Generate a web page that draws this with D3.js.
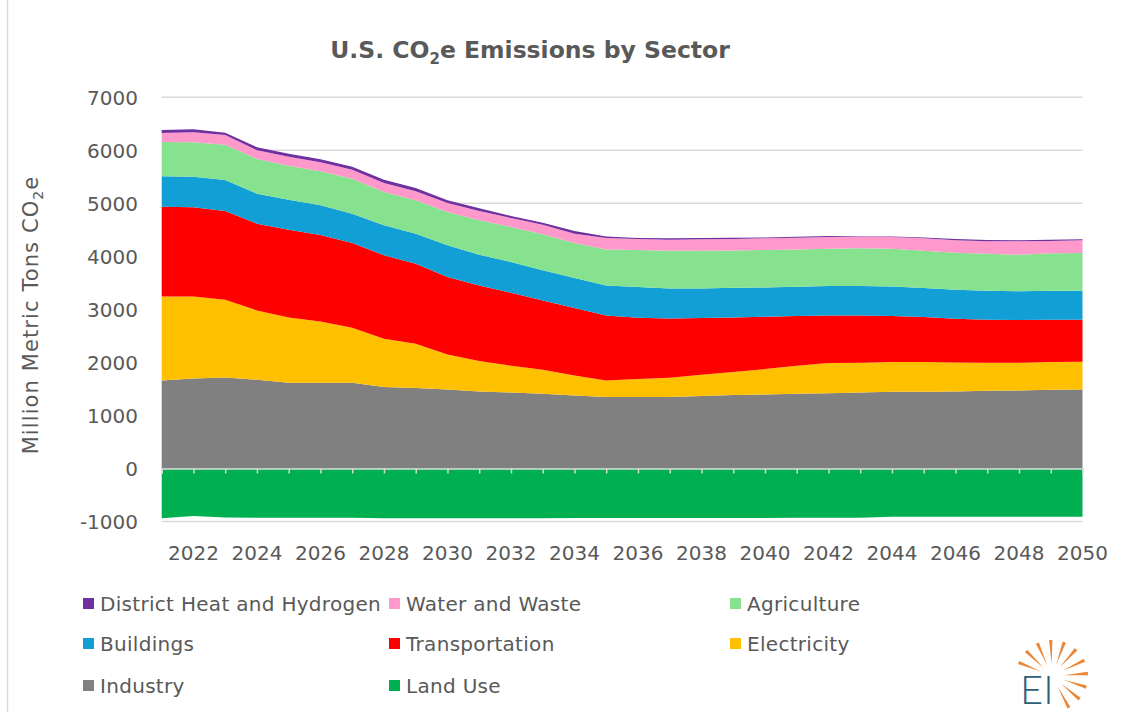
<!DOCTYPE html>
<html>
<head>
<meta charset="utf-8">
<script src="https://cdn.jsdelivr.net/npm/d3@7"></script>
<style>
   body { margin: 0; background: #fff; }
   svg { display: block; font-family: 'DejaVu Sans', sans-serif; }
   .tick-label { fill: #595959; font-size: 20px; }
   .legend-label { fill: #595959; font-size: 20px; letter-spacing: 0.3px; }
</style>
</head>
<body>
<div id="chart"></div>
<script>
// years on the category axis
const years = d3.range(2021, 2051);

// million metric tons CO2e per sector
const industry = [1660, 1698, 1717, 1673, 1616, 1616, 1616, 1535, 1516, 1491, 1453, 1434, 1409, 1377, 1346,
   1346, 1346, 1365, 1384, 1396, 1409, 1421, 1434, 1447, 1447, 1453, 1465, 1472, 1484, 1491];
const electricity = [1585, 1547, 1465, 1308, 1233, 1158, 1038, 912, 836, 660, 572, 503, 453, 378, 314,
   340, 365, 402, 434, 478, 528, 566, 560, 559, 559, 547, 529, 522, 522, 522];
const transportation = [1692, 1680, 1673, 1635, 1654, 1629, 1598, 1572, 1510, 1459, 1428, 1377, 1308, 1270, 1227,
   1157, 1119, 1069, 1031, 988, 937, 900, 893, 868, 849, 824, 811, 805, 799, 792];
const buildings = [572, 578, 585, 566, 566, 559, 553, 566, 566, 598, 578, 579, 566, 566, 566,
   578, 566, 560, 560, 553, 554, 553, 553, 560, 548, 547, 547, 541, 547, 547];
const agriculture = [648, 648, 667, 654, 642, 642, 660, 629, 629, 628, 648, 660, 679, 661, 679,
   699, 711, 711, 704, 705, 704, 705, 711, 711, 704, 698, 698, 691, 705, 711];
const waterWaste = [170, 189, 182, 164, 170, 170, 170, 170, 169, 170, 176, 170, 182, 176, 213,
   207, 207, 214, 214, 220, 220, 220, 214, 220, 233, 233, 233, 252, 232, 239];
const districtHeat = [57, 56, 44, 57, 56, 56, 57, 63, 63, 51, 51, 38, 38, 50, 32,
   19, 26, 25, 25, 18, 19, 19, 12, 12, 18, 25, 25, 19, 25, 19];
const landUse = [-940, -895, -925, -930, -930, -930, -930, -940, -940, -940, -940, -940, -940, -935, -935,
   -935, -935, -935, -935, -935, -930, -930, -930, -910, -910, -910, -910, -910, -910, -910];

const yTicks = [-1000, 0, 1000, 2000, 3000, 4000, 5000, 6000, 7000];
const xLabelYears = d3.range(2022, 2051, 2);

const sectors = [
   { key: 'Industry', values: industry, color: '#808080' },
   { key: 'Electricity', values: electricity, color: '#ffc000' },
   { key: 'Transportation', values: transportation, color: '#ff0000' },
   { key: 'Buildings', values: buildings, color: '#119fd6' },
   { key: 'Agriculture', values: agriculture, color: '#87e28f' },
   { key: 'Water and Waste', values: waterWaste, color: '#ff99cc' },
   { key: 'District Heat and Hydrogen', values: districtHeat, color: '#7030a0' },
   { key: 'Land Use', values: landUse, color: '#00b050' }
];

// legend order as in the original (3 columns)
const legendOrder = ['District Heat and Hydrogen', 'Water and Waste', 'Agriculture',
   'Buildings', 'Transportation', 'Electricity', 'Industry', 'Land Use'];

const width = 1123;
const height = 712;

const rows = years.map((yr, i) => {
   const row = { year: yr };
   sectors.forEach(s => { row[s.key] = s.values[i]; });
   return row;
});

const svg = d3.select('#chart').append('svg')
   .attr('width', width)
   .attr('height', height);

// chart frame edge on the left
svg.append('line')
   .attr('x1', 7.5).attr('x2', 7.5)
   .attr('y1', 0).attr('y2', height)
   .attr('stroke', '#d9d9d9')
   .attr('stroke-width', 1.5);

const x = d3.scaleLinear()
   .domain([2021, 2050])
   .range([161.7, 1082.5]);

const y = d3.scaleLinear()
   .domain([-1000, 7000])
   .range([521.5, 97.3]);

// gridlines
svg.append('g')
   .selectAll('line')
   .data(yTicks.filter(t => t !== 0))
   .enter()
   .append('line')
      .attr('x1', x(2021)).attr('x2', x(2050))
      .attr('y1', d => y(d)).attr('y2', d => y(d))
      .attr('stroke', '#d9d9d9')
      .attr('stroke-width', 1.5);

const stack = d3.stack()
   .keys(sectors.map(s => s.key))
   .offset(d3.stackOffsetDiverging);

const series = stack(rows);
const colorOf = key => sectors.find(s => s.key === key).color;

const area = d3.area()
   .x(d => x(d.data.year))
   .y0(d => y(d[0]))
   .y1(d => y(d[1]));

svg.append('g')
   .selectAll('path')
   .data(series)
   .enter()
   .append('path')
      .attr('fill', d => colorOf(d.key))
      .attr('d', area);

// zero axis line with tick marks
const xAxis = d3.axisBottom(x)
   .tickValues(years)
   .tickSize(5)
   .tickFormat('');

const axisG = svg.append('g')
   .attr('transform', `translate(0,${y(0)})`)
   .call(xAxis);

axisG.select('.domain')
   .attr('stroke', '#d9d9d9')
   .attr('stroke-width', 1.5);
axisG.selectAll('.tick line')
   .attr('stroke', '#d9d9d9')
   .attr('stroke-width', 1.5);

// y tick labels
svg.append('g')
   .selectAll('text')
   .data(yTicks)
   .enter()
   .append('text')
      .attr('class', 'tick-label')
      .attr('x', 138)
      .attr('y', d => y(d))
      .attr('dy', '0.36em')
      .attr('text-anchor', 'end')
      .text(d => d);

// x tick labels
svg.append('g')
   .selectAll('text')
   .data(xLabelYears)
   .enter()
   .append('text')
      .attr('class', 'tick-label')
      .attr('x', d => x(d))
      .attr('y', 560)
      .attr('text-anchor', 'middle')
      .text(d => d);

// title
const title = svg.append('text')
   .attr('x', 530)
   .attr('y', 58)
   .attr('text-anchor', 'middle')
   .attr('fill', '#595959')
   .attr('font-size', 23.5)
   .attr('font-weight', 'bold');
title.append('tspan').text('U.S. CO');
title.append('tspan').attr('font-size', 15).attr('dy', 6).text('2');
title.append('tspan').attr('dy', -6).text('e Emissions by Sector');

// y axis title
const yTitle = svg.append('text')
   .attr('transform', 'translate(38,315) rotate(-90)')
   .attr('text-anchor', 'middle')
   .attr('fill', '#595959')
   .attr('font-size', 21)
   .attr('letter-spacing', 1.1);
yTitle.append('tspan').text('Million Metric Tons CO');
yTitle.append('tspan').attr('font-size', 14).attr('dy', 5).text('2');
yTitle.append('tspan').attr('dy', -5).text('e');

// legend
const legendCols = [83, 389, 730];
const legendRows = [604, 644, 686];

const legend = svg.append('g')
   .selectAll('g')
   .data(legendOrder)
   .enter()
   .append('g')
      .attr('transform', (d, i) => `translate(${legendCols[i % 3]},${legendRows[Math.floor(i / 3)]})`);

legend.append('rect')
   .attr('x', 0)
   .attr('y', -6)
   .attr('width', 11)
   .attr('height', 11)
   .attr('fill', d => colorOf(d));

legend.append('text')
   .attr('class', 'legend-label')
   .attr('x', 17)
   .attr('dy', '0.36em')
   .text(d => d);

// EI logo
const logo = svg.append('g').attr('transform', 'translate(1052,676)');
const rayAngles = [-158, -136, -114, -92, -70, -48, -26, -4, 18, 40, 62];
logo.selectAll('path')
   .data(rayAngles)
   .enter()
   .append('path')
      .attr('fill', '#e8883a')
      .attr('d', a => {
         const r = a * Math.PI / 180;
         const r0 = 12, r1 = 36, w = 1.7;
         const c = Math.cos(r), s = Math.sin(r);
         return `M${r0 * c},${r0 * s} L${r1 * c - w * s},${r1 * s + w * c} L${r1 * c + w * s},${r1 * s - w * c}Z`;
      });

svg.append('text')
   .attr('x', 1020)
   .attr('y', 704)
   .attr('fill', '#2e5f7a')
   .attr('font-size', 40)
   .attr('font-weight', 300)
   .attr('font-family', 'Lato, sans-serif')
   .text('EI');
</script>
</body>
</html>
